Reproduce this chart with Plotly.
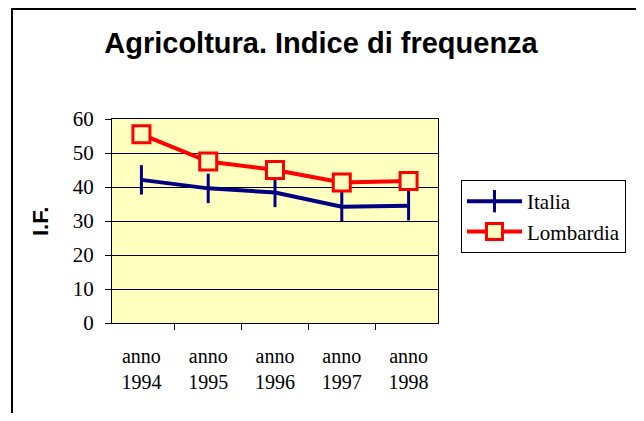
import plotly.graph_objects as go

categories = ["anno<br>1994", "anno<br>1995", "anno<br>1996", "anno<br>1997", "anno<br>1998"]
italia = [42.1, 39.6, 38.4, 34.2, 34.5]
lombardia = [55.5, 47.5, 45.0, 41.3, 41.8]
y_ticks = [0, 10, 20, 30, 40, 50, 60]

SERIF = "Liberation Serif, Times New Roman, serif"
SANS = "Liberation Sans, Arial, sans-serif"
PLOT_BG = "#FFFFC0"

# page body adds an 8px offset; the figure is sized so the plot lands where the reference has it
W, H = 636, 405
ML, MR, MT, MB = 104, 206, 111, 90
PW = W - ML - MR
PH = H - MT - MB


def px_x(p):  # screen x pixel -> paper x
    return (p - 8 - ML) / PW


def px_y(p):  # screen y pixel -> paper y
    return (H - MB - (p - 8)) / PH


fig = go.Figure()
fig.add_trace(go.Scatter(
    x=categories, y=italia, name="Italia", mode="lines+markers",
    line=dict(color="#000080", width=4),
    marker=dict(symbol="line-ns", size=21, line=dict(color="#000080", width=3)),
))
fig.add_trace(go.Scatter(
    x=categories, y=lombardia, name="Lombardia", mode="lines+markers",
    line=dict(color="#FF0000", width=4),
    marker=dict(symbol="square", size=17, color=PLOT_BG, line=dict(color="#FF0000", width=3)),
))

fig.update_layout(
    width=W, height=H,
    margin=dict(l=ML, r=MR, t=MT, b=MB),
    paper_bgcolor="white",
    plot_bgcolor=PLOT_BG,
    title=dict(text="<b>Agricoltura. Indice di frequenza</b>", xref="container", x=(321 - 8) / W,
               yref="container", y=1 - (43 - 8) / H, yanchor="middle", xanchor="center",
               font=dict(family=SANS, size=29, color="black")),
    legend=dict(x=px_x(461), y=px_y(180), xanchor="left", yanchor="top",
                bgcolor="white", bordercolor="black", borderwidth=1,
                font=dict(family=SERIF, size=21, color="black"),
                itemwidth=55, tracegroupgap=0, entrywidth=104),
    showlegend=True,
)
fig.update_xaxes(
    type="category", tickson="boundaries", ticks="outside", ticklen=6, tickcolor="black",
    showline=True, linecolor="black", linewidth=1, mirror=True, showgrid=False,
    tickfont=dict(family=SERIF, size=20, color="black"), ticklabelstandoff=15,
)
fig.update_yaxes(
    range=[0, 60], tickvals=y_ticks, ticks="outside", ticklen=6, tickcolor="black",
    showline=True, linecolor="black", linewidth=1, mirror=True,
    showgrid=True, gridcolor="black", gridwidth=1, zeroline=False,
    tickfont=dict(family=SERIF, size=21, color="black"), ticklabelstandoff=7,
)
fig.add_annotation(text="<b>I.F.</b>", xref="paper", yref="paper", x=px_x(40), y=px_y(222),
                   textangle=-90, showarrow=False, xanchor="center", yanchor="middle",
                   font=dict(family=SANS, size=22, color="black"))
fig.add_shape(type="rect", xref="paper", yref="paper",
              x0=px_x(12), x1=px_x(639), y0=px_y(440), y1=px_y(9),
              line=dict(color="black", width=2), fillcolor="rgba(0,0,0,0)", layer="below")

fig.write_html("out.html")
